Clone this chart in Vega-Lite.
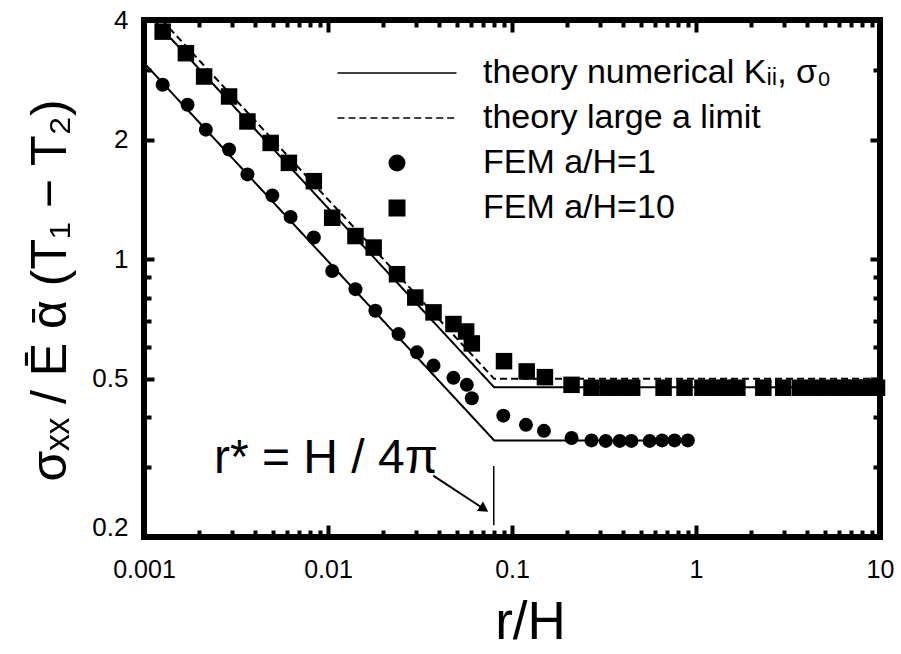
{
  "$schema": "https://vega.github.io/schema/vega-lite/v6.json",
  "width": 736,
  "height": 517,
  "autosize": {"type": "none"},
  "padding": {"left": 144, "top": 20, "right": 21, "bottom": 117},
  "config": {
    "view": {"stroke": "black", "strokeWidth": 6},
    "font": "Liberation Sans",
    "axis": {"domain": false, "grid": false, "labelColor": "black", "tickColor": "black", "labelFont": "Liberation Sans", "titleFont": "Liberation Sans", "titleColor": "black", "titleFontWeight": "normal"}
  },
  "datasets": {
    "theory": [
      {"curve": "a1", "series": "theory numerical Kᵢᵢ, σ₀", "x": 0.001, "y": 3.12},
      {"curve": "a1", "series": "theory numerical Kᵢᵢ, σ₀", "x": 0.08, "y": 0.35},
      {"curve": "a1", "series": "theory numerical Kᵢᵢ, σ₀", "x": 0.95, "y": 0.35},
      {"curve": "a10", "series": "theory numerical Kᵢᵢ, σ₀", "x": 0.00113, "y": 4.0},
      {"curve": "a10", "series": "theory numerical Kᵢᵢ, σ₀", "x": 0.08, "y": 0.476},
      {"curve": "a10", "series": "theory numerical Kᵢᵢ, σ₀", "x": 10, "y": 0.476},
      {"curve": "large", "series": "theory large a limit", "x": 0.00125, "y": 4.0},
      {"curve": "large", "series": "theory large a limit", "x": 0.08, "y": 0.50},
      {"curve": "large", "series": "theory large a limit", "x": 10, "y": 0.50}
    ],
    "fem1": [
      {"series": "FEM a/H=1", "x": 0.001263, "y": 2.748},
      {"series": "FEM a/H=1", "x": 0.001725, "y": 2.447},
      {"series": "FEM a/H=1", "x": 0.002168, "y": 2.119},
      {"series": "FEM a/H=1", "x": 0.0029, "y": 1.888},
      {"series": "FEM a/H=1", "x": 0.003649, "y": 1.635},
      {"series": "FEM a/H=1", "x": 0.004984, "y": 1.447},
      {"series": "FEM a/H=1", "x": 0.006262, "y": 1.278},
      {"series": "FEM a/H=1", "x": 0.008375, "y": 1.134},
      {"series": "FEM a/H=1", "x": 0.01054, "y": 0.934},
      {"series": "FEM a/H=1", "x": 0.0141, "y": 0.841},
      {"series": "FEM a/H=1", "x": 0.01809, "y": 0.742},
      {"series": "FEM a/H=1", "x": 0.02419, "y": 0.648},
      {"series": "FEM a/H=1", "x": 0.03045, "y": 0.583},
      {"series": "FEM a/H=1", "x": 0.03745, "y": 0.54},
      {"series": "FEM a/H=1", "x": 0.04806, "y": 0.503},
      {"series": "FEM a/H=1", "x": 0.05682, "y": 0.483},
      {"series": "FEM a/H=1", "x": 0.06047, "y": 0.447},
      {"series": "FEM a/H=1", "x": 0.0897, "y": 0.404},
      {"series": "FEM a/H=1", "x": 0.1191, "y": 0.383},
      {"series": "FEM a/H=1", "x": 0.1491, "y": 0.37},
      {"series": "FEM a/H=1", "x": 0.2107, "y": 0.355},
      {"series": "FEM a/H=1", "x": 0.2704, "y": 0.35},
      {"series": "FEM a/H=1", "x": 0.3232, "y": 0.349},
      {"series": "FEM a/H=1", "x": 0.3848, "y": 0.349},
      {"series": "FEM a/H=1", "x": 0.4455, "y": 0.349},
      {"series": "FEM a/H=1", "x": 0.5598, "y": 0.349},
      {"series": "FEM a/H=1", "x": 0.6541, "y": 0.35},
      {"series": "FEM a/H=1", "x": 0.7646, "y": 0.35},
      {"series": "FEM a/H=1", "x": 0.9029, "y": 0.35}
    ],
    "fem10": [
      {"series": "FEM a/H=10", "x": 0.001263, "y": 3.739},
      {"series": "FEM a/H=10", "x": 0.001689, "y": 3.3},
      {"series": "FEM a/H=10", "x": 0.002122, "y": 2.883},
      {"series": "FEM a/H=10", "x": 0.0029, "y": 2.568},
      {"series": "FEM a/H=10", "x": 0.003649, "y": 2.222},
      {"series": "FEM a/H=10", "x": 0.00488, "y": 1.962},
      {"series": "FEM a/H=10", "x": 0.006131, "y": 1.748},
      {"series": "FEM a/H=10", "x": 0.008375, "y": 1.572},
      {"series": "FEM a/H=10", "x": 0.01054, "y": 1.272},
      {"series": "FEM a/H=10", "x": 0.0141, "y": 1.144},
      {"series": "FEM a/H=10", "x": 0.01771, "y": 1.07},
      {"series": "FEM a/H=10", "x": 0.02372, "y": 0.917},
      {"series": "FEM a/H=10", "x": 0.02981, "y": 0.801},
      {"series": "FEM a/H=10", "x": 0.03745, "y": 0.735},
      {"series": "FEM a/H=10", "x": 0.04806, "y": 0.687},
      {"series": "FEM a/H=10", "x": 0.05633, "y": 0.658},
      {"series": "FEM a/H=10", "x": 0.06047, "y": 0.614},
      {"series": "FEM a/H=10", "x": 0.09048, "y": 0.554},
      {"series": "FEM a/H=10", "x": 0.1202, "y": 0.522},
      {"series": "FEM a/H=10", "x": 0.151, "y": 0.505},
      {"series": "FEM a/H=10", "x": 0.2107, "y": 0.483},
      {"series": "FEM a/H=10", "x": 0.2704, "y": 0.475},
      {"series": "FEM a/H=10", "x": 0.3314, "y": 0.475},
      {"series": "FEM a/H=10", "x": 0.3922, "y": 0.475},
      {"series": "FEM a/H=10", "x": 0.4498, "y": 0.475},
      {"series": "FEM a/H=10", "x": 0.6665, "y": 0.475},
      {"series": "FEM a/H=10", "x": 0.8663, "y": 0.475},
      {"series": "FEM a/H=10", "x": 1.084, "y": 0.475},
      {"series": "FEM a/H=10", "x": 1.291, "y": 0.475},
      {"series": "FEM a/H=10", "x": 1.481, "y": 0.475},
      {"series": "FEM a/H=10", "x": 1.678, "y": 0.475},
      {"series": "FEM a/H=10", "x": 2.322, "y": 0.475},
      {"series": "FEM a/H=10", "x": 2.981, "y": 0.475},
      {"series": "FEM a/H=10", "x": 3.685, "y": 0.475},
      {"series": "FEM a/H=10", "x": 4.499, "y": 0.475},
      {"series": "FEM a/H=10", "x": 5.291, "y": 0.475},
      {"series": "FEM a/H=10", "x": 6.223, "y": 0.475},
      {"series": "FEM a/H=10", "x": 7.32, "y": 0.475},
      {"series": "FEM a/H=10", "x": 8.503, "y": 0.475},
      {"series": "FEM a/H=10", "x": 9.632, "y": 0.475}
    ],
    "rstar": [{"x": 0.0796, "y": 0.214, "y2": 0.302}],
    "arrow": [{"x": 0.03731, "y": 0.2855, "x2": 0.07049, "y2": 0.2352}],
    "arrowhead": [{"x": 0.07049, "y": 0.2352}],
    "annot": [{"x": 0.0024, "y": 0.289, "label": "r* = H / 4π"}]
  },
  "resolve": {"scale": {"x": "shared", "y": "shared"}, "axis": {"x": "independent", "y": "independent"}},
  "layer": [
    {
      "data": {"name": "theory"},
      "mark": {"type": "line", "stroke": "black", "strokeWidth": 2},
      "encoding": {
        "x": {"field": "x", "type": "quantitative", "scale": {"type": "log", "domain": [0.001, 10], "nice": false},
          "axis": {"orient": "bottom", "values": [0.001, 0.01, 0.1, 1, 10], "format": "~g", "tickSize": -12, "tickWidth": 4, "labelPadding": 32, "labelFontSize": 25, "labelFlush": false,
            "title": "r/H", "titleFontSize": 53, "titleX": 386, "titleY": 101, "titleBaseline": "alphabetic", "titleAlign": "center"}},
        "y": {"field": "y", "type": "quantitative", "scale": {"type": "log", "domain": [0.2, 4], "nice": false},
          "axis": {"orient": "left", "values": [0.2, 0.5, 1, 2, 4], "format": "~g", "tickSize": -10, "tickWidth": 4, "labelPadding": 26, "labelFontSize": 26, "labelFlush": false,
            "labelOffset": {"condition": {"test": "datum.value < 0.3", "value": -10}, "value": 0},
            "title": "σₓₓ / Ē ᾱ (T₁ − T₂)", "titleFontSize": 50, "titleX": -94, "titleY": 270, "titleAngle": -90, "titleBaseline": "middle", "titleAlign": "center"}},
        "detail": {"field": "curve"},
        "strokeDash": {"field": "series", "type": "nominal",
          "scale": {"domain": ["theory numerical Kᵢᵢ, σ₀", "theory large a limit"], "range": [[1, 0], [7, 4]]},
          "legend": null}
      }
    },
    {
      "data": {"name": "fem1"},
      "mark": {"type": "point", "filled": true, "color": "black", "size": 196, "opacity": 1},
      "encoding": {
        "x": {"field": "x", "type": "quantitative", "scale": {"type": "log", "domain": [0.001, 10], "nice": false},
          "axis": {"orient": "bottom", "values": [0.002, 0.003, 0.004, 0.005, 0.006, 0.007, 0.008, 0.009, 0.02, 0.03, 0.04, 0.05, 0.06, 0.07, 0.08, 0.09, 0.2, 0.3, 0.4, 0.5, 0.6, 0.7, 0.8, 0.9, 2, 3, 4, 5, 6, 7, 8, 9], "labels": false, "tickSize": -7, "tickWidth": 4, "title": null}},
        "y": {"field": "y", "type": "quantitative", "scale": {"type": "log", "domain": [0.2, 4], "nice": false},
          "axis": {"orient": "left", "values": [0.3, 0.4, 0.6, 0.7, 0.8, 0.9, 3], "labels": false, "tickSize": -7, "tickWidth": 4, "title": null}},
        "shape": {"field": "series", "type": "nominal",
          "scale": {"domain": ["theory numerical Kᵢᵢ, σ₀", "theory large a limit", "FEM a/H=1", "FEM a/H=10"],
            "range": ["M-7,-0.1H7V0.1H-7Z", "M-7,-0.1H-6.18V0.1H-7Z M-5.71,-0.1H-4.89V0.1H-5.71Z M-4.42,-0.1H-3.6V0.1H-4.42Z M-3.13,-0.1H-2.31V0.1H-3.13Z M-1.84,-0.1H-1.02V0.1H-1.84Z M-0.55,-0.1H0.27V0.1H-0.55Z M0.74,-0.1H1.56V0.1H0.74Z M2.03,-0.1H2.85V0.1H2.03Z M3.32,-0.1H4.14V0.1H3.32Z M4.61,-0.1H5.43V0.1H4.61Z M5.9,-0.1H6.72V0.1H5.9Z", "circle", "square"]},
          "legend": {"title": null, "orient": "none", "legendX": 236, "legendY": 36, "symbolSize": 289, "labelFontSize": 34, "labelFont": "Liberation Sans", "labelColor": "black", "labelOffset": 69, "rowPadding": 11, "labelLimit": 600,
            "symbolStrokeWidth": 0, "symbolFillColor": "black", "symbolStrokeColor": "black", "symbolOpacity": 1,
            "encode": {"symbols": {"fill": {"value": "black"}, "strokeWidth": {"value": 0}, "opacity": {"value": 1}}}}}
      }
    },
    {
      "data": {"name": "fem10"},
      "mark": {"type": "point", "filled": true, "color": "black", "size": 272, "opacity": 1},
      "encoding": {
        "x": {"field": "x", "type": "quantitative", "scale": {"type": "log", "domain": [0.001, 10], "nice": false},
          "axis": {"orient": "top", "values": [0.01, 0.1, 1], "labels": false, "tickSize": -12, "tickWidth": 4, "title": null}},
        "y": {"field": "y", "type": "quantitative", "scale": {"type": "log", "domain": [0.2, 4], "nice": false},
          "axis": {"orient": "right", "values": [0.5, 1, 2], "labels": false, "tickSize": -10, "tickWidth": 4, "title": null}},
        "shape": {"field": "series", "type": "nominal",
          "scale": {"domain": ["theory numerical Kᵢᵢ, σ₀", "theory large a limit", "FEM a/H=1", "FEM a/H=10"],
            "range": ["M-7,-0.1H7V0.1H-7Z", "M-7,-0.1H-6.18V0.1H-7Z M-5.71,-0.1H-4.89V0.1H-5.71Z M-4.42,-0.1H-3.6V0.1H-4.42Z M-3.13,-0.1H-2.31V0.1H-3.13Z M-1.84,-0.1H-1.02V0.1H-1.84Z M-0.55,-0.1H0.27V0.1H-0.55Z M0.74,-0.1H1.56V0.1H0.74Z M2.03,-0.1H2.85V0.1H2.03Z M3.32,-0.1H4.14V0.1H3.32Z M4.61,-0.1H5.43V0.1H4.61Z M5.9,-0.1H6.72V0.1H5.9Z", "circle", "square"]},
          "legend": {"title": null, "orient": "none", "legendX": 236, "legendY": 36, "symbolSize": 289, "labelFontSize": 34, "labelFont": "Liberation Sans", "labelColor": "black", "labelOffset": 69, "rowPadding": 11, "labelLimit": 600,
            "symbolStrokeWidth": 0, "symbolFillColor": "black", "symbolStrokeColor": "black", "symbolOpacity": 1,
            "encode": {"symbols": {"fill": {"value": "black"}, "strokeWidth": {"value": 0}, "opacity": {"value": 1}}}}}
      }
    },
    {
      "data": {"name": "rstar"},
      "mark": {"type": "rule", "color": "black", "strokeWidth": 1.5},
      "encoding": {
        "x": {"field": "x", "type": "quantitative", "scale": {"type": "log", "domain": [0.001, 10], "nice": false},
          "axis": {"orient": "top", "values": [0.002, 0.003, 0.004, 0.005, 0.006, 0.007, 0.008, 0.009, 0.02, 0.03, 0.04, 0.05, 0.06, 0.07, 0.08, 0.09, 0.2, 0.3, 0.4, 0.5, 0.6, 0.7, 0.8, 0.9, 2, 3, 4, 5, 6, 7, 8, 9], "labels": false, "tickSize": -7, "tickWidth": 4, "title": null}},
        "y": {"field": "y", "type": "quantitative", "scale": {"type": "log", "domain": [0.2, 4], "nice": false},
          "axis": {"orient": "right", "values": [0.3, 0.4, 0.6, 0.7, 0.8, 0.9, 3], "labels": false, "tickSize": -7, "tickWidth": 4, "title": null}},
        "y2": {"field": "y2"}
      }
    },
    {
      "data": {"name": "arrow"},
      "mark": {"type": "rule", "color": "black", "strokeWidth": 2},
      "encoding": {
        "x": {"field": "x", "type": "quantitative", "scale": {"type": "log", "domain": [0.001, 10], "nice": false}, "axis": null},
        "y": {"field": "y", "type": "quantitative", "scale": {"type": "log", "domain": [0.2, 4], "nice": false}, "axis": null},
        "x2": {"field": "x2"},
        "y2": {"field": "y2"}
      }
    },
    {
      "data": {"name": "arrowhead"},
      "mark": {"type": "point", "shape": "triangle-right", "filled": true, "color": "black", "size": 130, "angle": 33, "opacity": 1},
      "encoding": {
        "x": {"field": "x", "type": "quantitative", "scale": {"type": "log", "domain": [0.001, 10], "nice": false}, "axis": null},
        "y": {"field": "y", "type": "quantitative", "scale": {"type": "log", "domain": [0.2, 4], "nice": false}, "axis": null}
      }
    },
    {
      "data": {"name": "annot"},
      "mark": {"type": "text", "fontSize": 48, "font": "Liberation Sans", "align": "left", "baseline": "alphabetic", "color": "black"},
      "encoding": {
        "x": {"field": "x", "type": "quantitative", "scale": {"type": "log", "domain": [0.001, 10], "nice": false}, "axis": null},
        "y": {"field": "y", "type": "quantitative", "scale": {"type": "log", "domain": [0.2, 4], "nice": false}, "axis": null},
        "text": {"field": "label"}
      }
    }
  ]
}
